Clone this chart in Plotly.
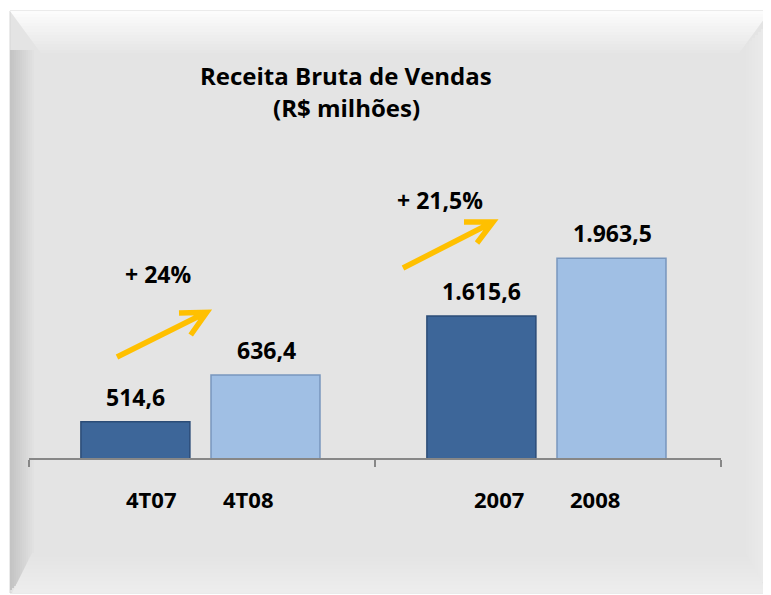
import plotly.graph_objects as go

# ---------------- data ----------------
groups = ["Trimestre", "Ano"]
period_labels = ["4T07", "4T08", "2007", "2008"]
bar_groups = ["Trimestre", "Trimestre", "Ano", "Ano"]
values = [514.6, 636.4, 1615.6, 1963.5]
value_text = ["514,6", "636,4", "1.615,6", "1.963,5"]
growth_text = ["+ 24%", "+ 21,5%"]
title_lines = ["Receita Bruta de Vendas", "(R$ milhões)"]

# ---------------- styling ----------------
FONT = "'Open Sans', 'Noto Sans', 'DejaVu Sans', sans-serif"
DARK = "#3d6699"
LIGHT = "#a0bfe4"
DARK_LINE = "#2b4c77"
LIGHT_LINE = "#7896bd"
ARROW = "#ffc000"
W, H = 771, 595
OFF = 8  # page body margin
L, R, T, B = 29 - OFF, 721 - OFF, 150 - OFF, 458 - OFF


def px(x):
    return (x - OFF - L) / (R - L)


def py(y):
    return (B - (y - OFF)) / (B - T)


# axis scales (quarterly bars and annual bars use separate value axes)
y_range = [419.9, 1223.2]
y2_range = [759.6, 2616.0]

fig = go.Figure()

colors = [DARK, LIGHT, DARK, LIGHT]
lines = [DARK_LINE, LIGHT_LINE, DARK_LINE, LIGHT_LINE]
offsets = [-0.35, 0.026, -0.35, 0.026]
axes = ["y", "y", "y2", "y2"]
for i in range(4):
    fig.add_trace(go.Bar(
        x=[bar_groups[i]], y=[values[i]], yaxis=axes[i],
        marker=dict(color=colors[i], line=dict(color=lines[i], width=1.5)),
        width=0.315, offset=offsets[i], showlegend=False, hoverinfo="skip",
    ))

# ---------------- background panel ----------------
shapes = []
shapes.append(dict(type="rect", xref="paper", yref="paper", layer="below",
                   x0=px(10), x1=px(770), y0=py(593), y1=py(11),
                   fillcolor="#e4e4e4", line=dict(color="#d6d6d6", width=1)))
# top bevel (light gradient)
n = 14
for k in range(n):
    t = k / n
    y0 = 11 + k * 3
    c = int(252 - (252 - 229) * t)
    shapes.append(dict(type="path", xref="paper", yref="paper", layer="below",
                       path=f"M {px(10 + k*2.2)},{py(y0)} L {px(770 - k*2.2)},{py(y0)} "
                            f"L {px(770 - (k+1)*2.2)},{py(y0+3)} L {px(10 + (k+1)*2.2)},{py(y0+3)} Z",
                       fillcolor=f"rgb({c},{c},{c})", line=dict(width=0)))
# left bevel (dark gradient)
n = 12
for k in range(n):
    t = k / n
    c = int(196 + (228 - 196) * t)
    shapes.append(dict(type="rect", xref="paper", yref="paper", layer="below",
                       x0=px(10 + k * 2), x1=px(12 + k * 2), y0=py(590 - k*2), y1=py(50),
                       fillcolor=f"rgb({c},{c},{c})", line=dict(width=0)))
# right bevel (subtle light gradient)
n = 8
for k in range(n):
    c = int(228 + (236 - 228) * (k + 1) / n)
    shapes.append(dict(type="rect", xref="paper", yref="paper", layer="below",
                       x0=px(746 + k * 3), x1=px(749 + k * 3), y0=py(572 + k*2), y1=py(44 - k*3),
                       fillcolor=f"rgb({c},{c},{c})", line=dict(width=0)))
# bottom bevel (subtle light gradient)
n = 10
for k in range(n):
    c = int(228 + (237 - 228) * (k + 1) / n)
    y0 = 553 + k * 4
    shapes.append(dict(type="path", xref="paper", yref="paper", layer="below",
                       path=f"M {px(32 - k*2)},{py(y0)} L {px(746 + k*2.2)},{py(y0)} "
                            f"L {px(746 + (k+1)*2.2)},{py(y0+4)} L {px(32 - (k+1)*2)},{py(y0+4)} Z",
                       fillcolor=f"rgb({c},{c},{c})", line=dict(width=0)))

# growth arrows (decorative)
arrows = [
    ((117, 357), (206.7, 312.3), (179, 313), (190.7, 335)),
    ((403, 268), (493, 222), (464, 222), (477, 243)),
]
for s, tip, a1, a2 in arrows:
    path = (f"M {px(s[0])},{py(s[1])} L {px(tip[0])},{py(tip[1])} "
            f"M {px(a1[0])},{py(a1[1])} L {px(tip[0])},{py(tip[1])} L {px(a2[0])},{py(a2[1])}")
    shapes.append(dict(type="path", xref="paper", yref="paper", layer="above",
                       path=path, line=dict(color=ARROW, width=5.5)))

annotations = []
# title
for txt, yc in zip(title_lines, [75, 108]):
    annotations.append(dict(text=f"<b>{txt}</b>", xref="paper", yref="paper",
                            x=px(346), y=py(yc), xanchor="center", yanchor="middle",
                            showarrow=False, font=dict(family=FONT, size=24, color="#000")))
# growth labels
for txt, (xc, yc) in zip(growth_text, [(158, 274), (440, 200)]):
    annotations.append(dict(text=f"<b>{txt}</b>", xref="paper", yref="paper",
                            x=px(xc), y=py(yc), xanchor="center", yanchor="middle",
                            showarrow=False, font=dict(family=FONT, size=23, color="#000")))
# value labels above bars
bar_centers = [-66.5, 64, -66.5, 64]
for i in range(4):
    annotations.append(dict(text=f"<b>{value_text[i]}</b>", xref="x", yref=axes[i],
                            x=bar_groups[i], y=values[i], xshift=bar_centers[i], yshift=25,
                            xanchor="center", yanchor="middle", showarrow=False,
                            font=dict(family=FONT, size=23, color="#000")))
# category labels
label_shift = [-51, 46, -49, 47]
for i in range(4):
    annotations.append(dict(text=f"<b>{period_labels[i]}</b>", xref="x", yref="paper",
                            x=bar_groups[i], y=py(499), xshift=label_shift[i],
                            xanchor="center", yanchor="middle", showarrow=False,
                            font=dict(family=FONT, size=22, color="#000")))

fig.update_layout(
    width=W, height=H,
    margin=dict(l=L, r=W - R, t=T, b=H - B, pad=0),
    paper_bgcolor="white", plot_bgcolor="rgba(0,0,0,0)",
    barmode="overlay",
    shapes=shapes, annotations=annotations,
    xaxis=dict(type="category", categoryorder="array", categoryarray=groups,
               range=[-0.5, 1.5], showticklabels=False, showgrid=False, zeroline=False,
               showline=True, linecolor="#878787", linewidth=2,
               ticks="outside", tickson="boundaries", ticklen=7, tickcolor="#878787", tickwidth=2),
    yaxis=dict(range=y_range, visible=False, showgrid=False, zeroline=False),
    yaxis2=dict(range=y2_range, visible=False, overlaying="y", showgrid=False, zeroline=False),
)

fig.write_html("out.html")
